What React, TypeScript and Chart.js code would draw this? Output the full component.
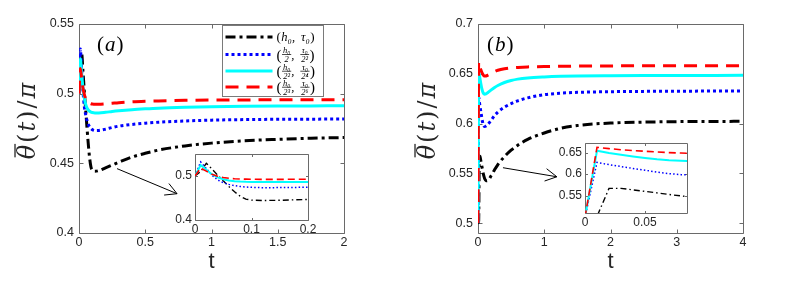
import React, { useEffect, useRef } from 'react';
import { Chart, registerables } from 'chart.js';

Chart.register(...registerables);

// ---------------- data ----------------
const timeA = [0, 0.01, 0.02, 0.03, 0.04, 0.05, 0.06, 0.07, 0.08, 0.09, 0.1, 0.12, 0.15, 0.2, 0.25, 0.3, 0.4, 0.5, 0.6, 0.8, 1.0, 1.25, 1.5, 1.75, 2.0];
const blackA = [0.5, 0.51, 0.529, 0.516, 0.502, 0.489, 0.476, 0.464, 0.454, 0.4475, 0.4452, 0.4443, 0.4448, 0.4468, 0.4488, 0.4508, 0.4545, 0.4572, 0.4595, 0.4625, 0.4645, 0.4662, 0.4672, 0.468, 0.4685];
const blueA = [0.5, 0.532, 0.517, 0.502, 0.491, 0.485, 0.481, 0.478, 0.4762, 0.475, 0.4742, 0.4735, 0.4736, 0.4745, 0.4757, 0.4767, 0.4779, 0.4788, 0.4795, 0.4804, 0.481, 0.4814, 0.4816, 0.4817, 0.4818];
const cyanA = [0.5, 0.525, 0.514, 0.504, 0.497, 0.4925, 0.4898, 0.4883, 0.4874, 0.4868, 0.4865, 0.4862, 0.4862, 0.4866, 0.4872, 0.4877, 0.4885, 0.4891, 0.4896, 0.4902, 0.4906, 0.4909, 0.4911, 0.4912, 0.4913];
const redA = [0.5, 0.518, 0.511, 0.504, 0.4995, 0.4965, 0.4948, 0.4938, 0.4932, 0.4928, 0.4926, 0.4924, 0.4924, 0.4927, 0.4931, 0.4935, 0.4941, 0.4945, 0.4948, 0.4952, 0.4954, 0.4955, 0.4956, 0.4956, 0.4957];

const timeB = [0, 0.01, 0.02, 0.03, 0.04, 0.05, 0.06, 0.07, 0.08, 0.09, 0.1, 0.12, 0.15, 0.2, 0.25, 0.3, 0.4, 0.5, 0.6, 0.75, 1.0, 1.25, 1.5, 2.0, 2.5, 3.0, 4.0];
const blackB = [0.5, 0.502, 0.567, 0.567, 0.5635, 0.56, 0.5565, 0.5528, 0.5495, 0.5468, 0.5447, 0.5425, 0.5428, 0.5478, 0.5535, 0.5588, 0.5668, 0.5732, 0.5782, 0.584, 0.5905, 0.5952, 0.598, 0.6005, 0.6014, 0.6019, 0.6022];
const blueB = [0.5, 0.627, 0.622, 0.6175, 0.613, 0.609, 0.6045, 0.6012, 0.5988, 0.5975, 0.597, 0.5975, 0.5992, 0.6035, 0.608, 0.6115, 0.6165, 0.62, 0.6228, 0.6258, 0.629, 0.6305, 0.6313, 0.632, 0.6323, 0.6325, 0.6326];
const cyanB = [0.5, 0.654, 0.649, 0.645, 0.641, 0.6375, 0.6345, 0.6322, 0.6307, 0.6298, 0.6295, 0.6298, 0.6312, 0.6338, 0.6362, 0.6382, 0.6412, 0.6432, 0.6446, 0.6458, 0.6468, 0.6474, 0.6477, 0.648, 0.6482, 0.6483, 0.6484];
const redB = [0.5, 0.662, 0.659, 0.6565, 0.6545, 0.6528, 0.6512, 0.6498, 0.6487, 0.648, 0.6477, 0.6478, 0.6487, 0.6505, 0.6522, 0.6535, 0.655, 0.6559, 0.6564, 0.6569, 0.6573, 0.6575, 0.6577, 0.6579, 0.658, 0.658, 0.658];

const xTicksA = [0, 0.5, 1, 1.5, 2];
const yTicksA = [0.4, 0.45, 0.5, 0.55];
const xTicksB = [0, 1, 2, 3, 4];
const yTicksB = [0.5, 0.55, 0.6, 0.65, 0.7];
const xTicksInsetA = [0, 0.1, 0.2];
const yTicksInsetA = [0.4, 0.5];
const xTicksInsetB = [0, 0.05];
const yTicksInsetB = [0.55, 0.6, 0.65];

// legend terms: [numerator] or [numerator, denominator]
const legendTerms: string[][][] = [
  [['h₀'], ['τ₀']],
  [['h₀', '2'], ['τ₀', '2²']],
  [['h₀', '2²'], ['τ₀', '2⁴']],
  [['h₀', '2³'], ['τ₀', '2⁶']],
];
const legendNames = ['(h0, τ0)', '(h0/2, τ0/2^2)', '(h0/2^2, τ0/2^4)', '(h0/2^3, τ0/2^6)'];

// y-axis label parts: θ̄(t)/π
const yLabelParts = [
  { t: 'θ', it: true, bar: true },
  { t: '(', it: false },
  { t: 't', it: true },
  { t: ')', it: false },
  { t: '/', it: false },
  { t: 'π', it: true },
];

// annotation anchors (data coordinates of the main panels)
const arrowA = { from: [0.287, 0.4462], to: [0.74, 0.4282] };
const arrowB = { from: [0.377, 0.5556], to: [1.19, 0.5465] };

// ---------------- styles ----------------
const STYLES = [
  { color: '#000000', width: 3, dash: [10, 4, 3, 4], iw: 1.4, idash: [6, 3, 1.5, 3] },
  { color: '#0000ff', width: 3, dash: [3, 3], iw: 1.5, idash: [1.5, 2.2] },
  { color: '#00ffff', width: 3, dash: [], iw: 2, idash: [] },
  { color: '#ff0000', width: 3, dash: [13, 8], iw: 1.6, idash: [7, 4] },
];
const TXT = '#262626';
const AXC = '#6a6a6a';

function makeDatasets(t: number[], series: number[][], inset: boolean) {
  return series.map((ys, i) => {
    const st = STYLES[i];
    return {
      label: legendNames[i],
      data: t.map((x, k) => ({ x, y: ys[k] })),
      borderColor: st.color,
      borderWidth: inset ? st.iw : st.width,
      borderDash: inset ? st.idash : st.dash,
      borderCapStyle: 'butt',
      pointRadius: 0,
      fill: false,
      tension: inset ? 0 : 0.4,
      cubicInterpolationMode: inset ? 'default' : 'monotone',
      order: 4 - i,
      clip: inset ? 0 : undefined,
    };
  });
}

function axis(kind: 'x' | 'y', min: number, max: number, ticks: number[], size: number, fontSize: number, pad: number, title?: any) {
  return {
    type: 'linear',
    position: kind === 'x' ? 'bottom' : 'left',
    min,
    max,
    afterBuildTicks: (s: any) => { s.ticks = ticks.map((value) => ({ value })); },
    afterFit: (s: any) => { if (kind === 'x') s.height = size; else s.width = size; },
    grid: { display: false, drawTicks: false },
    border: { display: false },
    ticks: {
      color: TXT,
      font: { family: 'Liberation Sans', size: fontSize },
      padding: pad,
      maxRotation: 0,
      autoSkip: false,
      callback: (v: any) => String(v),
    },
    title: title || { display: false },
  };
}

const framePlugin = {
  id: 'frame',
  beforeDraw(chart: any, _a: any, o: any) {
    if (!o.fill) return;
    const { ctx, chartArea: a } = chart;
    ctx.save();
    ctx.fillStyle = o.fill;
    ctx.fillRect(a.left, a.top, a.right - a.left, a.bottom - a.top);
    ctx.restore();
  },
  beforeDatasetsDraw(chart: any, _a: any, o: any) {
    const { ctx, chartArea: a } = chart;
    const xs = chart.scales.x;
    const ys = chart.scales.y;
    const L = o.tick;
    const s = (v: number) => Math.round(v) + 0.5;
    const l = s(a.left), r = s(a.right), t = s(a.top), b = s(a.bottom);
    ctx.save();
    ctx.strokeStyle = AXC;
    ctx.lineWidth = 1;
    ctx.setLineDash([]);
    ctx.beginPath();
    xs.ticks.forEach((tk: any) => {
      const px = s(xs.getPixelForValue(tk.value));
      ctx.moveTo(px, b); ctx.lineTo(px, b - L);
      ctx.moveTo(px, t); ctx.lineTo(px, t + L);
    });
    ys.ticks.forEach((tk: any) => {
      const py = s(ys.getPixelForValue(tk.value));
      ctx.moveTo(l, py); ctx.lineTo(l + L, py);
      ctx.moveTo(r, py); ctx.lineTo(r - L, py);
    });
    ctx.rect(l, t, r - l, b - t);
    ctx.stroke();
    ctx.restore();
  },
};

function drawMath(ctx: CanvasRenderingContext2D, x: number, cy: number, terms: string[][]) {
  const big = terms.some((t) => t.length > 1);
  const inl = 'italic 12.5px "Liberation Serif"';
  const paren = big ? '15px "Liberation Serif"' : '13px "Liberation Serif"';
  const frac = 'italic 8.5px "Liberation Serif"';
  const base = cy + 4;
  let cx = x;
  ctx.fillStyle = '#000';
  ctx.textBaseline = 'alphabetic';
  ctx.textAlign = 'left';
  ctx.font = paren;
  ctx.fillText('(', cx, big ? base + 1 : base);
  cx += ctx.measureText('(').width + 0.5;
  terms.forEach((t, j) => {
    if (j > 0) {
      ctx.font = inl;
      ctx.fillText(',', cx, base);
      cx += ctx.measureText(',').width + 6;
    }
    if (t.length === 1) {
      ctx.font = inl;
      ctx.fillText(t[0], cx, base);
      cx += ctx.measureText(t[0]).width;
    } else {
      ctx.font = frac;
      const w1 = ctx.measureText(t[0]).width;
      const w2 = ctx.measureText(t[1]).width;
      const w = Math.max(w1, w2) + 2;
      ctx.fillText(t[0], cx + (w - w1) / 2, cy - 1.5);
      ctx.fillRect(cx, cy - 0.2, w, 0.7);
      ctx.fillText(t[1], cx + (w - w2) / 2, cy + 7.5);
      cx += w;
    }
  });
  ctx.font = paren;
  ctx.fillText(')', cx + 0.5, big ? base + 1 : base);
}

function drawYLabel(ctx: CanvasRenderingContext2D, x: number, y: number) {
  const size = 24;
  const fam = '"DejaVu Serif"';
  const gap = 2;
  const fonts = yLabelParts.map((p) => (p.it ? `italic ${size}px ${fam}` : `${size}px ${fam}`));
  const widths = yLabelParts.map((p, i) => { ctx.font = fonts[i]; return ctx.measureText(p.t).width; });
  const total = widths.reduce((s, w) => s + w, 0) + gap * (yLabelParts.length - 1);
  ctx.save();
  ctx.translate(x, y);
  ctx.rotate(-Math.PI / 2);
  ctx.fillStyle = TXT;
  ctx.textBaseline = 'alphabetic';
  ctx.textAlign = 'left';
  let cx = -total / 2;
  const base = 7;
  yLabelParts.forEach((p, i) => {
    ctx.font = fonts[i];
    ctx.fillText(p.t, cx, base);
    if (p.bar) ctx.fillRect(cx + 2, base - size * 0.86, widths[i] - 1, 1.3);
    cx += widths[i] + gap;
  });
  ctx.restore();
}

const annotPlugin = {
  id: 'annot',
  afterDraw(chart: any, _a: any, o: any) {
    const { ctx, chartArea: a } = chart;
    if (o.ylabel) drawYLabel(ctx, o.ylabel.x, a.top + o.ylabel.dy);
  },
  afterDatasetsDraw(chart: any, _a: any, o: any) {
    const { ctx, chartArea: a } = chart;
    const xs = chart.scales.x;
    const ys = chart.scales.y;
    ctx.save();
    ctx.setLineDash([]);
    if (o.label) {
      let cx = a.left + o.label.dx;
      const by = a.top + o.label.dy;
      ctx.fillStyle = '#000';
      ctx.textBaseline = 'alphabetic';
      ctx.textAlign = 'left';
      ctx.font = '21px "Liberation Serif"';
      ctx.fillText('(', cx, by);
      cx += ctx.measureText('(').width + 1;
      ctx.font = 'italic 21px "Liberation Serif"';
      ctx.fillText(o.label.text, cx, by);
      cx += ctx.measureText(o.label.text).width + 1;
      ctx.font = '21px "Liberation Serif"';
      ctx.fillText(')', cx, by);
    }
    if (o.arrow) {
      const x0 = xs.getPixelForValue(o.arrow.from[0]);
      const y0 = ys.getPixelForValue(o.arrow.from[1]);
      const x1 = xs.getPixelForValue(o.arrow.to[0]);
      const y1 = ys.getPixelForValue(o.arrow.to[1]);
      const ang = Math.atan2(y1 - y0, x1 - x0);
      const hl = 13, ha = 0.5;
      ctx.strokeStyle = '#000';
      ctx.lineWidth = 1;
      ctx.beginPath();
      ctx.moveTo(x0, y0); ctx.lineTo(x1, y1);
      ctx.moveTo(x1 - hl * Math.cos(ang - ha), y1 - hl * Math.sin(ang - ha));
      ctx.lineTo(x1, y1);
      ctx.lineTo(x1 - hl * Math.cos(ang + ha), y1 - hl * Math.sin(ang + ha));
      ctx.stroke();
    }
    if (o.legend) {
      const lg = o.legend;
      const bx = Math.round(a.right - lg.right - lg.w) + 0.5;
      const by = Math.round(a.top + lg.top) + 0.5;
      ctx.fillStyle = '#fff';
      ctx.fillRect(bx, by, lg.w, lg.h);
      ctx.strokeStyle = '#7a7a7a';
      ctx.lineWidth = 1;
      ctx.strokeRect(bx, by, lg.w, lg.h);
      chart.data.datasets.forEach((d: any, i: number) => {
        const cy = by + lg.rows[i];
        ctx.save();
        ctx.beginPath();
        ctx.setLineDash(d.borderDash || []);
        ctx.strokeStyle = d.borderColor;
        ctx.lineWidth = d.borderWidth;
        ctx.lineCap = 'butt';
        ctx.moveTo(bx + 3, cy);
        ctx.lineTo(bx + 50, cy);
        ctx.stroke();
        ctx.restore();
        drawMath(ctx, bx + 54, cy, legendTerms[i]);
      });
    }
    ctx.restore();
  },
};

const xTitle = {
  display: true,
  text: 't',
  color: TXT,
  font: { family: 'Liberation Sans', size: 22 },
  padding: { top: 0, bottom: 6 },
};

function baseOptions(padding: any, scales: any, plugins: any) {
  return {
    animation: false,
    responsive: false,
    maintainAspectRatio: false,
    devicePixelRatio: 1,
    events: [],
    layout: { padding },
    plugins: { legend: { display: false }, tooltip: { enabled: false }, ...plugins },
    scales,
  };
}

function cfgMainA() {
  return {
    type: 'line',
    data: { datasets: makeDatasets(timeA, [blackA, blueA, cyanA, redA], false) },
    options: baseOptions(
      { left: 0, top: 24, right: 51, bottom: 0 },
      {
        x: axis('x', 0, 2, xTicksA, 48, 12.5, 2, xTitle),
        y: axis('y', 0.4, 0.55, yTicksA, 79, 12.5, 5),
      },
      {
        frame: { tick: 4 },
        annot: {
          label: { text: 'a', dx: 18, dy: 27 },
          arrow: arrowA,
          ylabel: { x: 28, dy: 97 },
          legend: { right: 21, top: 1, w: 101, h: 71, rows: [11.5, 29, 45.5, 61.5] },
        },
      }
    ),
    plugins: [framePlugin, annotPlugin],
  };
}

function cfgMainB() {
  return {
    type: 'line',
    data: { datasets: makeDatasets(timeB, [blackB, blueB, cyanB, redB], false) },
    options: baseOptions(
      { left: 0, top: 24, right: 46, bottom: 0 },
      {
        x: axis('x', 0, 4, xTicksB, 48, 12.5, 2, xTitle),
        y: axis('y', 0.49, 0.7, yTicksB, 78, 12.5, 5),
      },
      {
        frame: { tick: 4 },
        annot: { label: { text: 'b', dx: 9, dy: 27 }, arrow: arrowB, ylabel: { x: 28, dy: 97 } },
      }
    ),
    plugins: [framePlugin, annotPlugin],
  };
}

function cfgInsetA() {
  return {
    type: 'line',
    data: { datasets: makeDatasets(timeA, [blackA, blueA, cyanA, redA], true) },
    options: baseOptions(
      { left: 0, top: 14, right: 12, bottom: 0 },
      {
        x: axis('x', 0, 0.2, xTicksInsetA, 30, 12, 2),
        y: axis('y', 0.4, 0.55, yTicksInsetA, 35, 12, 3),
      },
      { frame: { tick: 2.5, fill: '#ffffff' } }
    ),
    plugins: [framePlugin],
  };
}

function cfgInsetB() {
  return {
    type: 'line',
    data: { datasets: makeDatasets(timeB, [blackB, blueB, cyanB, redB], true) },
    options: baseOptions(
      { left: 0, top: 15, right: 13, bottom: 0 },
      {
        x: axis('x', 0, 0.085, xTicksInsetB, 27, 12, 2),
        y: axis('y', 0.51, 0.672, yTicksInsetB, 40, 12, 3),
      },
      { frame: { tick: 2.5, fill: '#ffffff' } }
    ),
    plugins: [framePlugin],
  };
}

function ChartBox(props: { left: number; top: number; width: number; height: number; make: () => any }) {
  const ref = useRef<HTMLCanvasElement>(null);
  useEffect(() => {
    const chart = new Chart(ref.current as HTMLCanvasElement, props.make());
    return () => chart.destroy();
  }, []);
  return (
    <canvas
      ref={ref}
      width={props.width}
      height={props.height}
      style={{ position: 'absolute', left: props.left, top: props.top, width: props.width, height: props.height }}
    />
  );
}

export default function App() {
  return (
    <div style={{ position: 'absolute', left: 0, top: 0, width: 789, height: 281, background: '#ffffff', overflow: 'hidden' }}>
      <ChartBox left={0} top={0} width={395} height={281} make={cfgMainA} />
      <ChartBox left={400} top={0} width={389} height={281} make={cfgMainB} />
      <ChartBox left={160} top={140} width={160} height={110} make={cfgInsetA} />
      <ChartBox left={545} top={128} width={155} height={112} make={cfgInsetB} />
    </div>
  );
}
